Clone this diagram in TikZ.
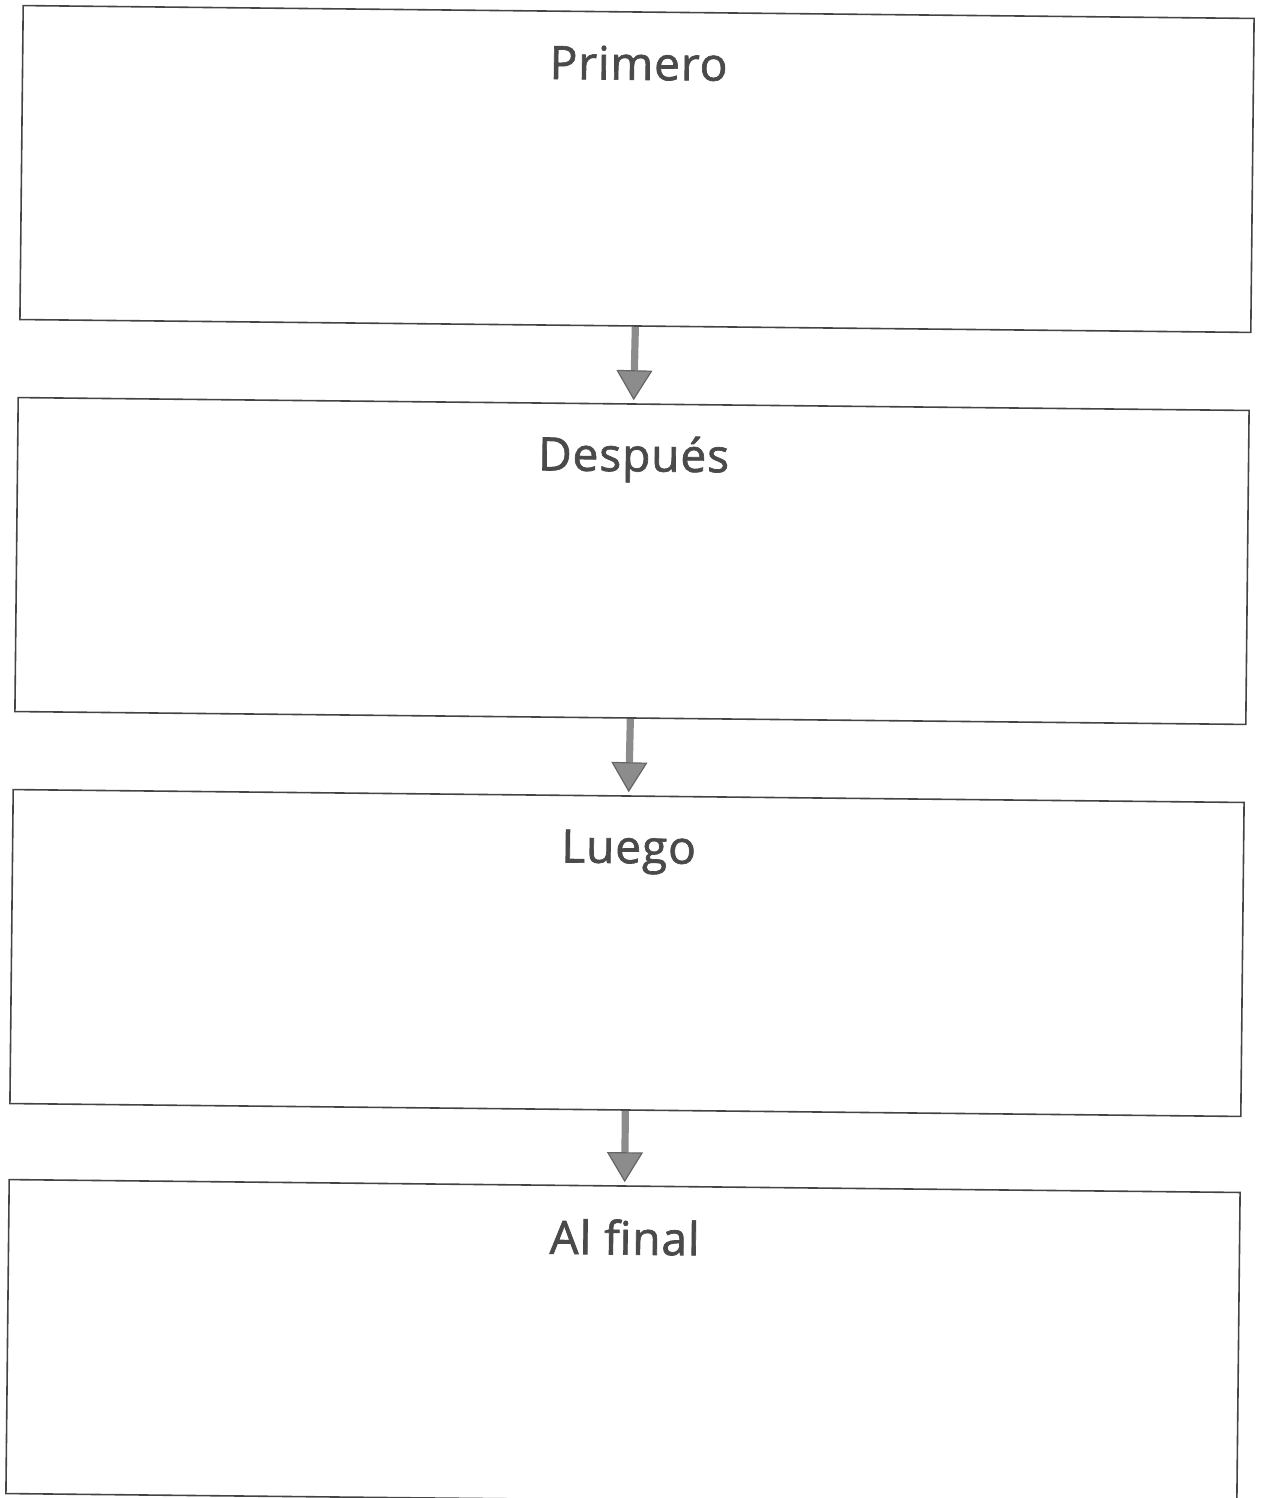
\documentclass[tikz,border=0pt]{standalone}
\usepackage{fontspec}
\setmainfont{Open Sans}[FakeBold=1.5,LetterSpace=2]
\usetikzlibrary{arrows.meta,calc}
\definecolor{boxline}{HTML}{444444}
\definecolor{txtgray}{HTML}{4A4A4A}
\definecolor{arrgray}{HTML}{8C8C8C}
\definecolor{arrdark}{HTML}{666666}
\tikzset{
  stagebox/.style={draw=boxline, line width=0.8pt, minimum width=615.5pt, minimum height=157pt, inner sep=0pt, rotate=-0.6},
  stagelbl/.style={text=txtgray, font=\fontsize{23}{28}\selectfont, inner sep=0pt, rotate=-0.6},
  flowarr/.style={draw=arrgray, line width=3.6pt, -{Triangle[length=15pt,width=18pt,line width=0.6pt,fill=arrgray,color=arrdark]}, shorten >=1.5pt}
}
\begin{document}
\begin{tikzpicture}[x=0.5pt,y=-0.5pt]
\useasboundingbox (0,0) rectangle (1263,1498);
\node[stagebox] (b1) at (637,169) {};
\node[stagebox] (b2) at (632,561) {};
\node[stagebox] (b3) at (627,953) {};
\node[stagebox] (b4) at (623,1343) {};
\node[stagelbl] (l1) at ($(b1.north)+(0,52)$) {Primero};
\node[stagelbl] (l2) at ($(b2.north)+(0,56)$) {Después};
\node[stagelbl] (l3) at ($(b3.north)+(0,57)$) {Luego};
\node[stagelbl] (l4) at ($(b4.north)+(0,52)$) {Al final};
\draw[flowarr] (b1.south) -- (b2.north);
\draw[flowarr] (b2.south) -- (b3.north);
\draw[flowarr] (b3.south) -- (b4.north);
\end{tikzpicture}
\end{document}
